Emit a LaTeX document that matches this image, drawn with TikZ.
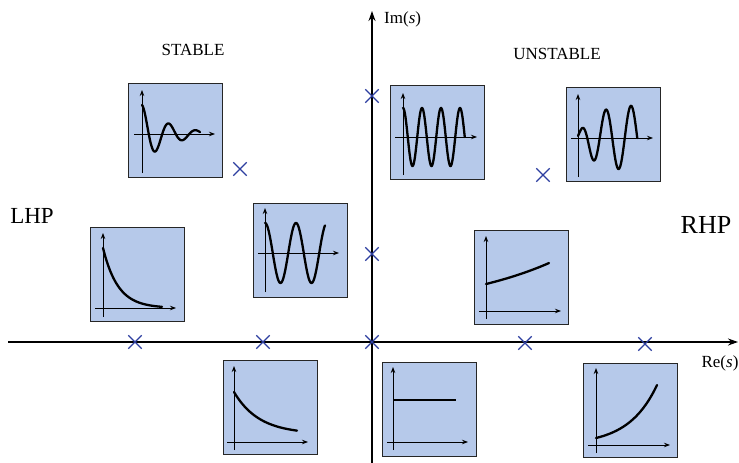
\documentclass[tikz,border=0pt]{standalone}
\usepackage{fontspec}
\setmainfont{Liberation Serif}
\usetikzlibrary{arrows.meta,shapes.misc}
\definecolor{boxblue}{RGB}{182,201,234}
\definecolor{poleblue}{RGB}{45,62,160}
\begin{document}
\begin{tikzpicture}[x=1pt,y=-1pt,
  pbox/.style={draw=black!85, line width=1.1pt, fill=boxblue, minimum width=94pt, minimum height=94pt, inner sep=0pt, anchor=north west},
  paxis/.style={line width=0.9pt, -{Stealth[length=6pt,width=4.5pt]}},
  pcurve/.style={line width=2.3pt, line cap=round},
  pole/.style={cross out, draw=poleblue, line width=1.3pt, minimum size=12pt, inner sep=0pt},
  mainaxis/.style={line width=1.2pt, -{Stealth[length=10pt,width=7pt]}},
  lab/.style={font=\fontsize{17}{20}\selectfont, inner sep=0pt}
]
\useasboundingbox (0,0) rectangle (739,463);
% main axes
\coordinate (reL) at (8,342);
\coordinate (reR) at (738,342);
\coordinate (imB) at (372,463);
\coordinate (imT) at (372,11);
\draw[mainaxis] (reL) -- (reR);
\draw[mainaxis] (imB) -- (imT);
% labels
\node[lab] (stable) at (193,50) {STABLE};
\node[lab] (unstable) at (557,54) {UNSTABLE};
\node[lab, anchor=west] (im) at (384,19) {Im(\textit{s})};
\node[lab] (re) at (720,363) {Re(\textit{s})};
\node[font=\fontsize{23}{26}\selectfont, inner sep=0pt] (lhp) at (32,216) {LHP};
\node[font=\fontsize{26}{29}\selectfont, inner sep=0pt] (rhp) at (706,225) {RHP};
% boxes
\node[pbox] (b1) at (128,83) {};
\node[pbox] (b2) at (390,85) {};
\node[pbox] (b3) at (566,87) {};
\node[pbox] (b4) at (90,227) {};
\node[pbox] (b5) at (253,203) {};
\node[pbox] (b6) at (474,230) {};
\node[pbox] (b7) at (223,360) {};
\node[pbox] (b8) at (382,362) {};
\node[pbox] (b9) at (583,363) {};
% box 1: damped oscillation
\begin{scope}[shift={(b1.north west)}]
  \draw[paxis] (14,90) -- (14,7);
  \draw[paxis] (6,51) -- (87,51);
  \draw[pcurve] plot[domain=0:58, samples=150, smooth] ({\x+14},{51-29*exp(-0.038*\x)*cos(13.3333*\x)});
\end{scope}
% box 2: sustained oscillation
\begin{scope}[shift={(b2.north west)}]
  \draw[paxis] (13,90) -- (13,8);
  \draw[paxis] (5,52) -- (87,52);
  \draw[pcurve] plot[domain=0:61.75, samples=200, smooth] ({\x+13},{52-29*cos(18.9474*\x)});
\end{scope}
% box 3: growing oscillation
\begin{scope}[shift={(b3.north west)}]
  \draw[paxis] (12,90) -- (12,7);
  \draw[paxis] (5,51) -- (87,51);
  \draw[pcurve] plot[domain=0:59.25, samples=200, smooth] ({\x+12},{51-(33-30*exp(-\x/15))*cos(14.4*(\x-3))});
\end{scope}
% box 4: fast decay
\begin{scope}[shift={(b4.north west)}]
  \draw[paxis] (13,90) -- (13,6);
  \draw[paxis] (5,81) -- (86,81);
  \draw[pcurve] plot[domain=0:59, samples=100, smooth] ({\x+13},{81-60*exp(-\x/15)});
\end{scope}
% box 5: sustained oscillation (slow)
\begin{scope}[shift={(b5.north west)}]
  \draw[paxis] (12,89) -- (12,5);
  \draw[paxis] (5,50) -- (86,50);
  \draw[pcurve] plot[domain=0:60, samples=150, smooth] ({\x+12},{50-30*cos(11.6129*\x)});
\end{scope}
% box 6: slow growth
\begin{scope}[shift={(b6.north west)}]
  \draw[paxis] (12,89) -- (12,6);
  \draw[paxis] (5,81) -- (87,81);
  \draw[pcurve] plot[domain=0:63, samples=60, smooth] ({\x+12},{81-27*exp(0.00913*\x)});
\end{scope}
% box 7: slow decay
\begin{scope}[shift={(b7.north west)}]
  \draw[paxis] (11,90) -- (11,6);
  \draw[paxis] (4,82) -- (85,82);
  \draw[pcurve] plot[domain=0:63, samples=80, smooth] ({\x+11},{82-8-42*exp(-\x/25)});
\end{scope}
% box 8: constant
\begin{scope}[shift={(b8.north west)}]
  \draw[paxis] (11,88) -- (11,5);
  \draw[paxis] (5,80) -- (86,80);
  \coordinate (c8a) at (11,38);
  \coordinate (c8b) at (74,38);
  \draw[pcurve, line cap=butt] (c8a) -- (c8b);
\end{scope}
% box 9: fast growth
\begin{scope}[shift={(b9.north west)}]
  \draw[paxis] (13,90) -- (13,5);
  \draw[paxis] (5,82) -- (87,82);
  \draw[pcurve] plot[domain=0:61, samples=80, smooth] ({\x+13},{82-7*exp(0.0352*\x)});
\end{scope}
% poles
\node[pole] (p1) at (135,342) {};
\node[pole] (p2) at (263,342) {};
\node[pole] (p3) at (372,342) {};
\node[pole] (p4) at (525,343) {};
\node[pole] (p5) at (645,344) {};
\node[pole] (p6) at (372,96) {};
\node[pole] (p7) at (372,254) {};
\node[pole] (p8) at (240,169) {};
\node[pole] (p9) at (543,175) {};
\end{tikzpicture}
\end{document}
